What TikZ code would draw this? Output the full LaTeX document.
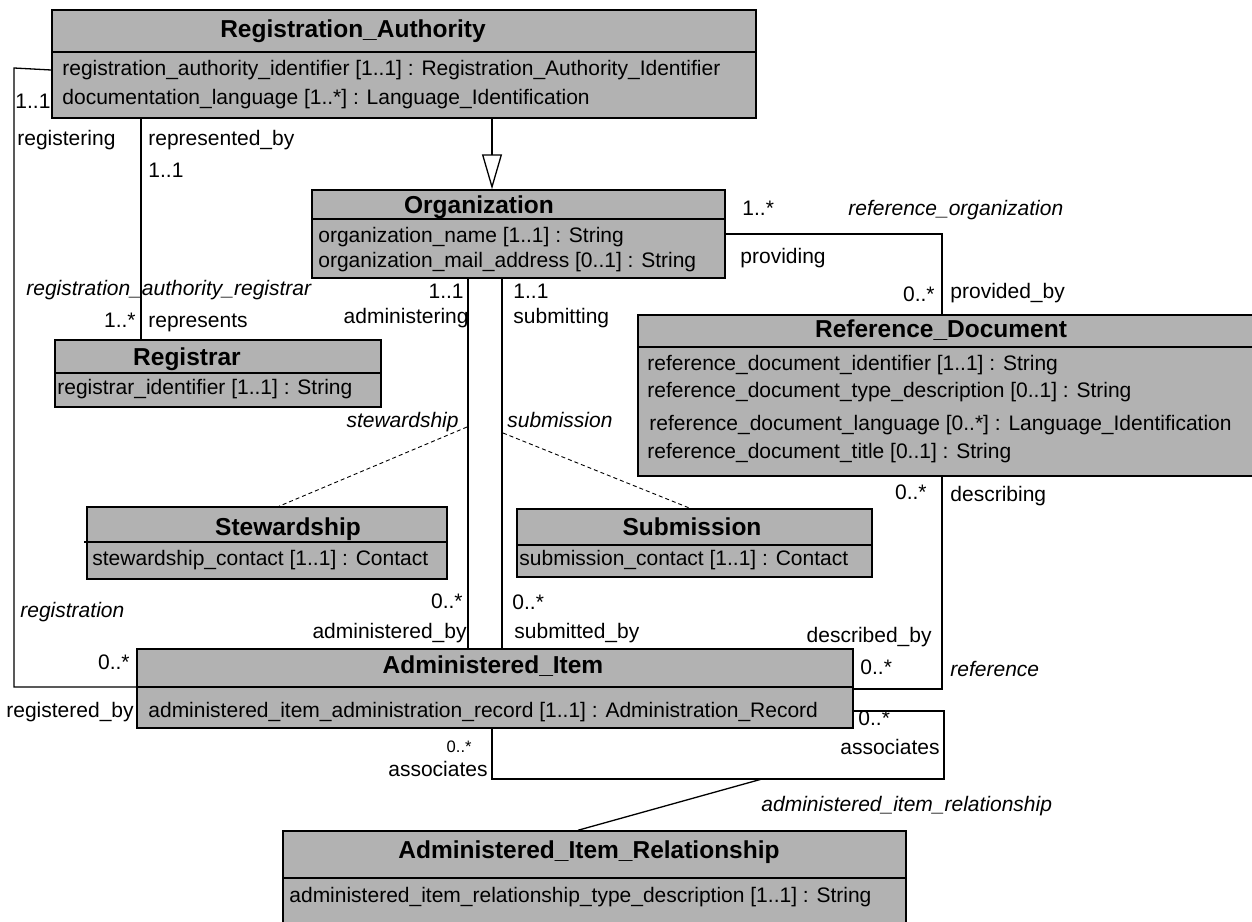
\documentclass[tikz,border=0pt]{standalone}
\usepackage{fontspec}
\setmainfont{Liberation Sans}
\usetikzlibrary{positioning, fit, arrows.meta}
\definecolor{boxgray}{RGB}{178,178,178}

\begin{document}
\begin{tikzpicture}[x=0.5pt, y=-0.5pt,
	classbox/.style={draw, fill=boxgray, line width=0.75pt, inner sep=0pt},
	sepline/.style={line width=0.75pt},
	classname/.style={font=\fontsize{12.25}{14}\selectfont\bfseries, inner sep=0pt, anchor=mid},
	attr/.style={font=\fontsize{10.5}{12}\selectfont, inner sep=0pt, anchor=mid west},
	lbl/.style={font=\fontsize{10.5}{12}\selectfont, inner sep=0pt},
	role/.style={inner sep=0pt, font=\fontsize{10.5}{12}\selectfont\itshape},
	assoc/.style={line width=0.65pt},
	gen/.style={line width=0.65pt, -{Triangle[open, length=17.5pt, width=10pt]}},
	link/.style={line width=0.45pt, dash pattern=on 2pt off 1.5pt}]
	\useasboundingbox (0,0) rectangle (1252,921);

	% classes
	\node[classbox, fit={(52,10) (756,118)}] (ra) {};
	\draw[sepline] (ra.west |- 0,52) -- (ra.east |- 0,52);
	\node[classname] (ra-name) at (353,32) {Registration\_Authority};
	\node[attr] (ra-a1) at (62,70) {registration\_authority\_identifier [1..1] : Registration\_Authority\_Identifier};
	\node[attr] (ra-a2) at (62,99) {documentation\_language [1..*] : Language\_Identification};

	\node[classbox, fit={(312,190) (725,278)}] (org) {};
	\draw[sepline] (org.west |- 0,219) -- (org.east |- 0,219);
	\node[classname] (org-name) at (479,208) {Organization};
	\node[attr] (org-a1) at (318,237) {organization\_name [1..1] : String};
	\node[attr] (org-a2) at (318,262) {organization\_mail\_address [0..1] : String};

	\node[classbox, fit={(55,340) (381,407)}] (reg) {};
	\draw[sepline] (reg.west |- 0,373) -- (reg.east |- 0,373);
	\node[classname] (reg-name) at (187,360) {Registrar};
	\node[attr] (reg-a1) at (57,389) {registrar\_identifier [1..1] : String};

	\node[classbox, fit={(638,315) (1258,476)}] (rd) {};
	\draw[sepline] (rd.west |- 0,347) -- (rd.east |- 0,347);
	\node[classname] (rd-name) at (941,332) {Reference\_Document};
	\node[attr] (rd-a1) at (647,365) {reference\_document\_identifier [1..1] : String};
	\node[attr] (rd-a2) at (647,392) {reference\_document\_type\_description [0..1] : String};
	\node[attr] (rd-a3) at (649,425) {reference\_document\_language [0..*] : Language\_Identification};
	\node[attr] (rd-a4) at (647,453) {reference\_document\_title [0..1] : String};

	\node[classbox, fit={(87,507) (447,579)}] (stw) {};
	\draw[sepline] (84,542) -- (stw.east |- 0,542);
	\node[classname] (stw-name) at (288,530) {Stewardship};
	\node[attr] (stw-a1) at (92,560) {stewardship\_contact [1..1] : Contact};

	\node[classbox, fit={(517,509) (872,577)}] (sub) {};
	\draw[sepline] (sub.west |- 0,545) -- (sub.east |- 0,545);
	\node[classname] (sub-name) at (692,530) {Submission};
	\node[attr] (sub-a1) at (519,560) {submission\_contact [1..1] : Contact};

	\node[classbox, fit={(137,649) (853,728)}] (ai) {};
	\draw[sepline] (ai.west |- 0,687) -- (ai.east |- 0,687);
	\node[classname] (ai-name) at (493,668) {Administered\_Item};
	\node[attr] (ai-a1) at (148,712) {administered\_item\_administration\_record [1..1] : Administration\_Record};

	\node[classbox, fit={(283,831) (906,935)}] (air) {};
	\draw[sepline] (air.west |- 0,878) -- (air.east |- 0,878);
	\node[classname] (air-name) at (589,853) {Administered\_Item\_Relationship};
	\node[attr] (air-a1) at (289,897) {administered\_item\_relationship\_type\_description [1..1] : String};

	% connectors
	\draw[gen] (492,0 |- ra.south) -- (492,0 |- org.north);
	\draw[assoc] (141,0 |- ra.south) -- (141,0 |- reg.north);
	\draw[assoc] (ra.west |- 0,70) -- (14,68) -- (14,687) -- (ai.west |- 0,687);
	\draw[assoc] (468,0 |- org.south) -- (468,0 |- ai.north);
	\draw[assoc] (502,0 |- org.south) -- (502,0 |- ai.north);
	\coordinate (stw-join) at (467,427);
	\coordinate (sub-join) at (503,433);
	\draw[link] (stw-join) -- (279,0 |- stw.north);
	\draw[link] (sub-join) -- (690,0 |- sub.north);
	\draw[assoc] (org.east |- 0,234) -- (942,234) -- (942,0 |- rd.north);
	\draw[assoc] (942,0 |- rd.south) -- (942,689) -- (ai.east |- 0,689);
	\draw[assoc] (ai.east |- 0,711) -- (944,711) -- (944,779) -- (492,779) -- (492,0 |- ai.south);
	\coordinate (rel-join) at (762,779);
	\draw[assoc] (rel-join) -- (578,0 |- air.north);

	% labels
	\node[lbl, anchor=mid west] (ra-m1) at (15,103) {1..1};
	\node[lbl, anchor=mid west] (ra-r1) at (17,140) {registering};
	\node[lbl, anchor=mid west] (ra-r2) at (148,140) {represented\_by};
	\node[lbl, anchor=mid west] (ra-m2) at (148,172) {1..1};
	\node[role, anchor=mid west] (rar-n) at (26,290) {registration\_authority\_registrar};
	\node[lbl, anchor=mid east] (reg-m) at (136,322) {1..*};
	\node[lbl, anchor=mid west] (reg-r) at (148,322) {represents};
	\node[lbl, anchor=mid east] (org-m1) at (464,293) {1..1};
	\node[lbl, anchor=mid east] (org-r1) at (469,318) {administering};
	\node[lbl, anchor=mid west] (org-m2) at (513,293) {1..1};
	\node[lbl, anchor=mid west] (org-r2) at (513,318) {submitting};
	\node[role, anchor=mid east] (stw-n) at (459,422) {stewardship};
	\node[role, anchor=mid west] (sub-n) at (507,422) {submission};
	\node[lbl, anchor=mid west] (org-m3) at (742,210) {1..*};
	\node[role, anchor=mid west] (ro-n) at (848,210) {reference\_organization};
	\node[lbl, anchor=mid west] (org-r3) at (740,258) {providing};
	\node[lbl, anchor=mid east] (rd-m1) at (935,296) {0..*};
	\node[lbl, anchor=mid west] (rd-r1) at (950,293) {provided\_by};
	\node[lbl, anchor=mid east] (rd-m2) at (927,494) {0..*};
	\node[lbl, anchor=mid west] (rd-r2) at (950,496) {describing};
	\node[lbl, anchor=mid east] (ai-r1) at (932,637) {described\_by};
	\node[lbl, anchor=mid west] (ai-m1) at (860,669) {0..*};
	\node[role, anchor=mid west] (ref-n) at (950,671) {reference};
	\node[role, anchor=mid west] (regn-n) at (20,612) {registration};
	\node[lbl, anchor=mid east] (ai-m2) at (463,603) {0..*};
	\node[lbl, anchor=mid east] (ai-r2) at (467,633) {administered\_by};
	\node[lbl, anchor=mid west] (ai-m3) at (512,604) {0..*};
	\node[lbl, anchor=mid west] (ai-r3) at (514,633) {submitted\_by};
	\node[lbl, anchor=mid east] (ai-m4) at (130,664) {0..*};
	\node[lbl, anchor=mid west] (ai-r4) at (6,712) {registered\_by};
	\node[lbl, anchor=mid west] (ai-m5) at (858,720) {0..*};
	\node[lbl, anchor=mid east] (ai-r5) at (940,749) {associates};
	\node[lbl, anchor=mid east, font=\fontsize{8.3}{10}\selectfont] (ai-m6) at (472,747) {0..*};
	\node[lbl, anchor=mid east] (ai-r6) at (488,771) {associates};
	\node[role, anchor=mid west] (air-n) at (761,806) {administered\_item\_relationship};
\end{tikzpicture}
\end{document}
